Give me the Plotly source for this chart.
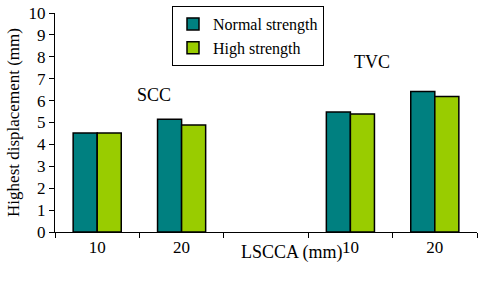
import plotly.graph_objects as go

categories = ["SCC 10", "SCC 20", "gap", "TVC 10", "TVC 20"]
tick_labels = ["10", "20", "", "10", "20"]
normal_strength = [4.52, 5.15, None, 5.48, 6.42]
high_strength = [4.52, 4.89, None, 5.39, 6.19]

font_family = "Times New Roman, Liberation Serif, DejaVu Serif, serif"

fig = go.Figure()
fig.add_trace(go.Bar(x=categories, y=normal_strength, name="Normal strength",
                     marker=dict(color="#008080", line=dict(color="black", width=1.5))))
fig.add_trace(go.Bar(x=categories, y=high_strength, name="High strength",
                     marker=dict(color="#99CC00", line=dict(color="black", width=1.5))))

top_frac = 219 / 226

fig.update_layout(
    width=480, height=284,
    margin=dict(l=55, r=3, t=6, b=52, autoexpand=False),
    paper_bgcolor="white", plot_bgcolor="white",
    font=dict(family=font_family, size=16, color="black"),
    barmode="group", bargap=0.43, bargroupgap=0,
    showlegend=True,
    legend=dict(x=(172 - 55) / 422, y=1, xanchor="left", yanchor="top",
                bordercolor="black", borderwidth=1, bgcolor="white",
                font=dict(size=16, family=font_family), itemwidth=30, tracegroupgap=0),
    xaxis=dict(type="category", categoryorder="array", categoryarray=categories,
               tickvals=categories, ticktext=tick_labels, range=[-0.5, 4.5],
               tickson="boundaries", ticks="outside", ticklen=5, tickcolor="black",
               showline=True, linecolor="black", linewidth=1, showgrid=False,
               tickfont=dict(size=17, family=font_family), automargin=False),
    yaxis=dict(range=[0, 10], dtick=1, ticks="outside", ticklen=5, tickcolor="black",
               domain=[0, top_frac],
               showline=True, linecolor="black", linewidth=1, showgrid=False,
               zeroline=False, tickfont=dict(size=17, family=font_family), automargin=False,
               title=dict(text="Highest displacement (mm)",
                          font=dict(size=17, family=font_family), standoff=4)),
)

fig.add_annotation(text="SCC", x=(135 - 55) / 422, y=(232 - 95) / 219 * top_frac,
                   xref="paper", yref="paper", showarrow=False,
                   font=dict(size=18, family=font_family))
fig.add_annotation(text="TVC", x=(392 - 55) / 422, y=(232 - 50) / 219 * top_frac,
                   xref="paper", yref="paper", showarrow=False,
                   font=dict(size=18, family=font_family))
fig.add_annotation(text="LSCCA (mm)", x=(292 - 55) / 422, y=(232 - 265) / 226,
                   xref="paper", yref="paper", showarrow=False,
                   font=dict(size=18, family=font_family))

fig.write_html("out.html", config={"displayModeBar": False},
               post_script="document.body.style.margin='0';document.body.style.padding='0';")
